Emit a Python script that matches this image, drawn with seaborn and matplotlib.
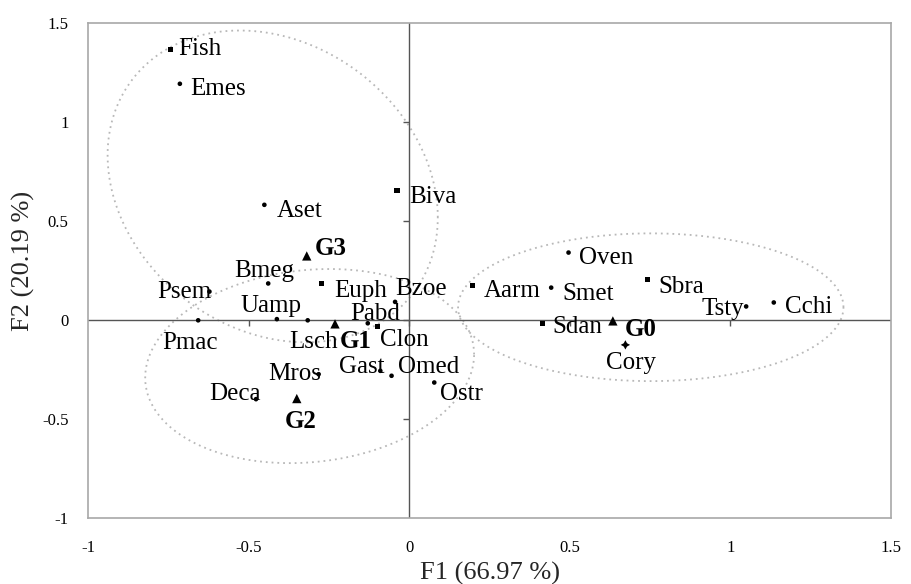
import numpy as np
import pandas as pd
import matplotlib
matplotlib.use("Agg")
import matplotlib.pyplot as plt
from matplotlib.ticker import FuncFormatter
import seaborn as sns

# taxa / group centroids with their scores on the first two factors
names = ["Fish", "Emes", "Aset", "Biva", "G3", "Bmeg", "Psem", "Euph", "Bzoe", "Uamp",
         "Pmac", "Lsch", "G1", "Pabd", "Clon", "Gast", "Omed", "Ostr", "Mros", "Deca",
         "G2", "Oven", "Aarm", "Smet", "Sbra", "Tsty", "Cchi", "Sdan", "G0", "Cory"]
f1 = [-0.742, -0.714, -0.451, -0.038, -0.319, -0.439, -0.622, -0.272, -0.044, -0.412,
      -0.657, -0.316, -0.231, -0.129, -0.098, -0.090, -0.055, 0.078, -0.282, -0.477,
      -0.350, 0.496, 0.198, 0.442, 0.743, 1.049, 1.135, 0.416, 0.634, 0.673]
f2 = [1.367, 1.192, 0.581, 0.652, 0.323, 0.184, 0.143, 0.184, 0.091, 0.004,
      -0.002, -0.002, -0.020, -0.017, -0.033, -0.257, -0.282, -0.316, -0.274, -0.400,
      -0.397, 0.340, 0.172, 0.163, 0.202, 0.068, 0.088, -0.017, -0.005, -0.126]
kind = ["square", "dot", "dot", "square", "centroid", "dot", "dot", "square", "dot", "dot",
        "dot", "dot", "centroid", "dot", "square", "dot", "dot", "dot", "dot", "dot",
        "centroid", "dot", "square", "dot", "square", "dot", "dot", "square", "centroid", "star"]

# group ellipses (G3, G1/G2, G0): centre, half extents, tilt as correlation
ell_cx = [-0.425, -0.31, 0.752]
ell_cy = [0.674, -0.233, 0.064]
ell_a = [0.514, 0.512, 0.60]
ell_b = [0.787, 0.49, 0.373]
ell_r = [-0.2, 0.12, 0.0]

# label placement (pixels right, pixels down, alignment)
label_pos = {
    "Fish": (7, 0, "left"), "Emes": (10, 5, "left"), "Aset": (12, 6, "left"),
    "Biva": (12, 6, "left"), "G3": (8, -7, "left"), "Bmeg": (-4, -12, "center"),
    "Psem": (2, 0, "right"), "Euph": (12, 8, "left"), "Bzoe": (0, -13, "left"),
    "Uamp": (-6, -13, "center"), "Pmac": (-8, 23, "center"), "Lsch": (6, 22, "center"),
    "G1": (5, 18, "left"), "Pabd": (7, -9, "center"), "Clon": (2, 14, "left"),
    "Gast": (4, -4, "right"), "Omed": (6, -9, "left"), "Ostr": (6, 11, "left"),
    "Mros": (2, 0, "right"), "Deca": (5, -5, "right"), "G2": (4, 23, "center"),
    "Oven": (10, 5, "left"), "Aarm": (11, 5, "left"), "Smet": (11, 6, "left"),
    "Sbra": (11, 7, "left"), "Tsty": (-2, 3, "right"), "Cchi": (11, 5, "left"),
    "Sdan": (10, 4, "left"), "G0": (12, 9, "left"), "Cory": (6, 18, "center"),
}
groups = ["G0", "G1", "G2", "G3"]

df = pd.DataFrame({"name": names, "F1": f1, "F2": f2, "kind": kind})

sns.set_theme(style="white")
plt.rcParams["font.family"] = ["Liberation Serif", "DejaVu Serif"]

fig = plt.figure(figsize=(9.12, 5.84), dpi=100)
ax = fig.add_axes([0.0965, 0.113, 0.8805, 0.848])

# ellipses drawn first, under the points
t = np.linspace(0, 2 * np.pi, 300)
for cx, cy, a, b, r in zip(ell_cx, ell_cy, ell_a, ell_b, ell_r):
    d = np.arccos(r)
    ax.plot(cx + a * np.cos(t), cy + b * np.cos(t - d), ls=(0, (1, 2.2)),
            color="#b8b8b8", lw=1.3, zorder=1)

ax.axhline(0, color="#555555", lw=1.0, zorder=2)
ax.axvline(0, color="#555555", lw=1.0, zorder=2)

sns.scatterplot(data=df, x="F1", y="F2", style="kind", size="kind",
                markers={"square": "s", "dot": "o", "centroid": "^", "star": (4, 1, 0)},
                sizes={"square": 14, "dot": 11, "centroid": 45, "star": 45},
                color="black", linewidth=0, legend=False, ax=ax, zorder=3)

for n, x, y in zip(names, f1, f2):
    dx, dy, ha = label_pos[n]
    ax.annotate(n, (x, y), xytext=(dx * 0.72, -dy * 0.72), textcoords="offset points",
                ha=ha, va="center", fontsize=18, color="black",
                fontweight="bold" if n in groups else "normal", zorder=4)

ax.set_xlim(-1, 1.5)
ax.set_ylim(-1, 1.5)
ticks = np.arange(-1, 1.51, 0.5)
ax.set_xticks(ticks)
ax.set_yticks(ticks)
fmt = FuncFormatter(lambda v, p: "%g" % v)
ax.xaxis.set_major_formatter(fmt)
ax.yaxis.set_major_formatter(fmt)
ax.tick_params(length=0, labelsize=12, colors="black")
ax.tick_params(axis="x", pad=16)
ax.tick_params(axis="y", pad=14)

# small tick marks on the crossing axes
inner = ticks[(ticks > -1) & (ticks < 1.5)]
ax.plot(inner, np.zeros_like(inner), ls="none", marker=3, ms=4, color="#555555", zorder=2)
ax.plot(np.zeros_like(inner), inner, ls="none", marker=0, ms=4, color="#555555", zorder=2)

for s in ax.spines.values():
    s.set_color("#a8a8a8")
    s.set_linewidth(1.2)

ax.set_xlabel("F1 (66.97 %)", fontsize=19, labelpad=4)
ax.set_ylabel("F2 (20.19 %)", fontsize=19, labelpad=4)
ax.yaxis.set_label_coords(-0.066, 0.52)

fig.savefig("out.png", dpi=100)
